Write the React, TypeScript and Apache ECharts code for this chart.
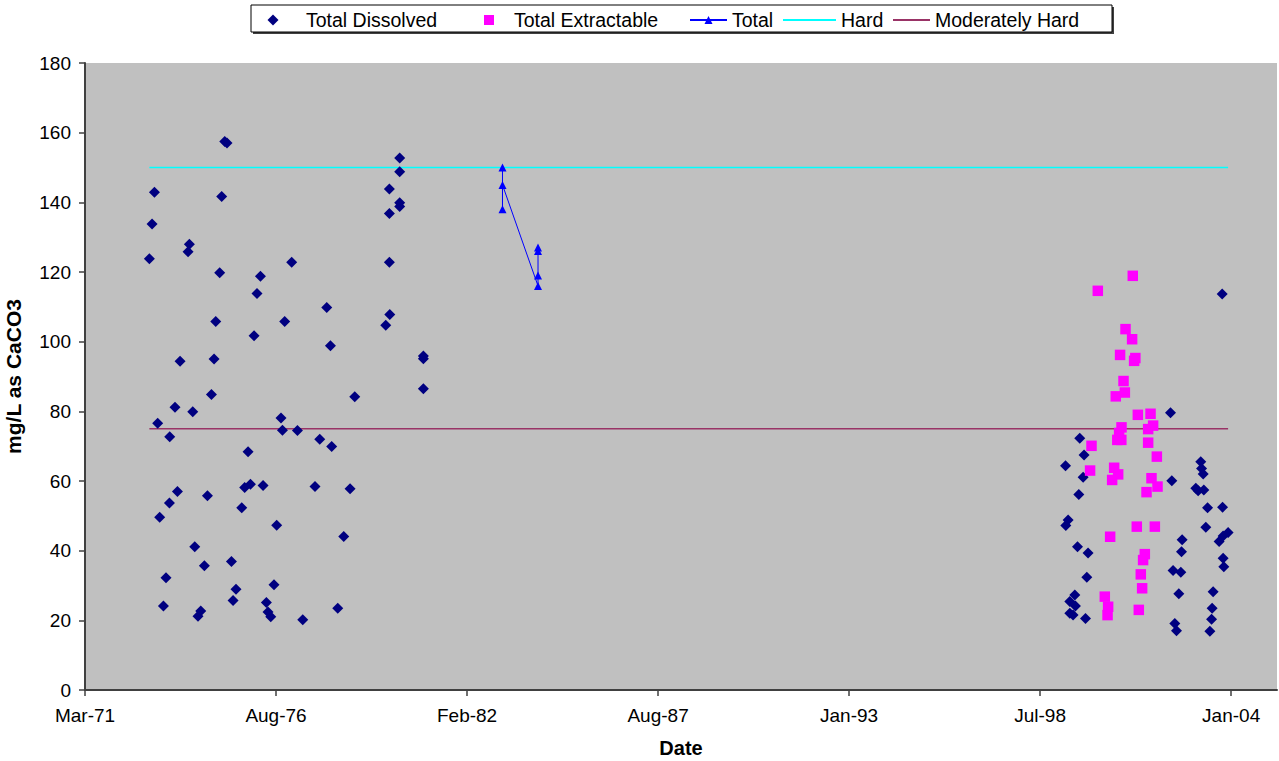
import React, { useEffect, useRef } from "react";
import * as echarts from "echarts";

// Dates are Excel date serials (days since 1899-12-30), values in mg/L as CaCO3
const dissolvedDates = [
  26674, 26702, 26727, 26761, 26782, 26821, 26848, 26884, 26887, 26942, 26968, 26995,
  27079, 27093, 27128, 27149, 27183, 27212, 27250, 27282, 27324, 27351, 27369, 27410,
  27431, 27463, 27487, 27533, 27550, 27581, 27641, 27672, 27707, 27732, 27770, 27801,
  27837, 27864, 27899, 27916, 27945, 27979, 28007, 28052, 28067, 28091, 28164, 28224,
  28280, 28408, 28458, 28531, 28570, 28583, 28646, 28709, 28775, 28824, 29149, 29187,
  29187, 29187, 29191, 29295, 29295, 29295, 29295, 29543, 29543, 29543,
  36266, 36269, 36293, 36311, 36311, 36345, 36363, 36370, 36391, 36405, 36415, 36450,
  36460, 36475, 36489, 36502, 37365, 37379, 37392, 37410, 37428, 37452, 37473, 37480,
  37487, 37630, 37654, 37682, 37690, 37707, 37714, 37735, 37753, 37777, 37795, 37801,
  37811, 37874, 37906, 37910, 37916, 37916, 37923, 37968,
];
const dissolvedValues = [
  123.8, 133.8, 142.9, 76.6, 49.6, 24.1, 32.2, 53.7, 72.7, 81.2, 57.0, 94.4,
  125.8, 128.0, 79.9, 41.1, 21.2, 22.7, 35.7, 55.8, 84.8, 95.0, 105.8, 119.8,
  141.7, 157.5, 157.0, 36.9, 25.7, 28.9, 52.3, 58.1, 68.4, 59.1, 101.7, 113.8,
  118.8, 58.7, 25.1, 22.4, 21.0, 30.2, 47.3, 78.1, 74.6, 105.8, 122.8, 74.5,
  20.2, 58.4, 72.0, 109.8, 98.8, 69.9, 23.5, 44.1, 57.8, 84.2, 104.7, 143.8,
  136.8, 122.8, 107.8, 152.7, 148.8, 139.9, 138.8, 95.9, 95.1, 86.5,
  64.4, 47.2, 48.8, 25.4, 22.0, 21.5, 27.3, 24.1, 41.1, 56.1, 72.3, 61.1,
  67.5, 20.5, 32.4, 39.3, 79.6, 60.1, 34.3, 19.1, 17.0, 27.6, 33.8, 39.7,
  43.1, 57.9, 57.2, 65.5, 63.6, 62.0, 57.4, 46.7, 52.3, 16.9, 20.3, 23.5,
  28.2, 42.6, 113.7, 52.5, 44.2, 37.8, 35.4, 45.2,
];

const extractableDates = [
  36523, 36538, 36604, 36677, 36706, 36712, 36733, 36754, 36775, 36792, 36808, 36817,
  36827, 36837, 36850, 36852, 36873, 36887, 36894, 36963, 36970, 36984, 36997, 37012,
  37023, 37033, 37054, 37068, 37078, 37096, 37114, 37131, 37131, 37156, 37166, 37183,
  37201, 37222, 37229,
];
const extractableValues = [
  63.0, 70.1, 114.6, 26.8, 21.5, 23.9, 44.0, 60.3, 63.8, 84.3, 71.8, 61.9,
  73.8, 96.2, 71.8, 75.4, 88.7, 85.4, 103.6, 100.7, 118.9, 94.5, 95.3, 46.9,
  79.0, 23.0, 33.2, 29.2, 37.3, 39.0, 56.8, 74.9, 71.0, 79.3, 60.8, 75.9,
  46.9, 67.0, 58.4,
];

const totalDates = [30371, 30371, 30371, 30743, 30743, 30743, 30743];
const totalValues = [150, 138, 145, 116, 119, 127, 126];

const guideDates = [26674, 37968];
const hardValues = [150, 150];
const moderatelyHardValues = [75, 75];

const yTicks = [0, 20, 40, 60, 80, 100, 120, 140, 160, 180];
const xMin = 26000; // Mar-71
const xMax = 38480;
const xInterval = 2000;

const MONTHS = ["Jan", "Feb", "Mar", "Apr", "May", "Jun", "Jul", "Aug", "Sep", "Oct", "Nov", "Dec"];
const EXCEL_EPOCH = Date.UTC(1899, 11, 30);

function formatSerial(v: number): string {
  if (Math.abs(v % xInterval) > 1e-6) return "";
  const d = new Date(EXCEL_EPOCH + v * 86400000);
  return MONTHS[d.getUTCMonth()] + "-" + String(d.getUTCFullYear() % 100).padStart(2, "0");
}

const zip = (xs: number[], ys: number[]) => xs.map((x, i) => [x, ys[i]]);

const FONT = "'Liberation Sans', Arial, sans-serif";

export default function App() {
  const ref = useRef<HTMLDivElement>(null);

  useEffect(() => {
    if (!ref.current) return;
    const chart = echarts.init(ref.current, null, { renderer: "svg" });
    const legendText = { fontSize: 19.5, color: "#000", fontFamily: FONT };
    const legendBase = { top: 10, padding: 0, textStyle: legendText, z: 10, symbolKeepAspect: true, selectedMode: false };
    chart.setOption({
      animation: false,
      backgroundColor: "#ffffff",
      textStyle: { fontFamily: FONT },
      grid: {
        left: 85,
        right: 2,
        top: 63,
        bottom: 71,
        show: true,
        backgroundColor: "#C0C0C0",
        borderWidth: 0,
        containLabel: false,
        outerBoundsMode: "none",
      },
      xAxis: {
        type: "value",
        min: xMin,
        max: xMax,
        interval: xInterval,
        name: "Date",
        nameLocation: "middle",
        nameGap: 48,
        nameTextStyle: { fontWeight: "bold", fontSize: 20, color: "#000", fontFamily: FONT },
        axisLine: { show: true, onZero: false, lineStyle: { color: "#404040", width: 2 } },
        axisTick: { show: true, inside: false, length: 6, lineStyle: { color: "#404040", width: 1.5 } },
        axisLabel: { margin: 16, fontSize: 19, color: "#000", formatter: formatSerial, showMaxLabel: false, fontFamily: FONT },
        splitLine: { show: false },
      },
      yAxis: {
        type: "value",
        min: yTicks[0],
        max: yTicks[yTicks.length - 1],
        interval: 20,
        name: "mg/L as CaCO3",
        nameLocation: "middle",
        nameGap: 61,
        nameRotate: 90,
        nameTextStyle: { fontWeight: "bold", fontSize: 21, color: "#000", fontFamily: FONT },
        axisLine: { show: true, onZero: false, lineStyle: { color: "#404040", width: 2 } },
        axisTick: { show: true, inside: false, length: 6, lineStyle: { color: "#404040", width: 1.5 } },
        axisLabel: { margin: 14, fontSize: 19, color: "#000", fontFamily: FONT },
        splitLine: { show: false },
      },
      legend: [
        { ...legendBase, left: 267.5, itemWidth: 56, itemHeight: 11, data: [{ name: "Total Dissolved", icon: "path://M5 0L10 5L5 10L0 5Z" }] },
        { ...legendBase, left: 484, itemWidth: 40, itemHeight: 10, data: [{ name: "Total Extractable", icon: "path://M0 0H10V10H0Z" }] },
        { ...legendBase, left: 689, itemWidth: 37, itemHeight: 10, data: ["Total"], lineStyle: { width: 2 } },
        { ...legendBase, left: 783, itemWidth: 53, itemHeight: 2, data: [{ name: "Hard", icon: "rect" }] },
        { ...legendBase, left: 893, itemWidth: 37, itemHeight: 2, data: [{ name: "Moderately Hard", icon: "rect" }] },
      ],
      graphic: [
        { type: "rect", z: 0, shape: { x: 253, y: 7, width: 861, height: 27 }, style: { fill: "#404040" } },
        { type: "rect", z: 1, shape: { x: 251, y: 5, width: 861, height: 27 }, style: { fill: "#ffffff", stroke: "#000000", lineWidth: 1 } },
      ],
      series: [
        {
          name: "Hard",
          type: "line",
          data: zip(guideDates, hardValues),
          symbol: "none",
          z: 1,
          itemStyle: { color: "#00FFFF" },
          lineStyle: { color: "#00FFFF", width: 1.5 },
        },
        {
          name: "Moderately Hard",
          type: "line",
          data: zip(guideDates, moderatelyHardValues),
          symbol: "none",
          z: 1,
          itemStyle: { color: "#993366" },
          lineStyle: { color: "#993366", width: 1.5 },
        },
        {
          name: "Total Dissolved",
          type: "scatter",
          data: zip(dissolvedDates, dissolvedValues),
          symbol: "diamond",
          symbolSize: 11,
          z: 3,
          itemStyle: { color: "#000080", opacity: 1 },
        },
        {
          name: "Total Extractable",
          type: "scatter",
          data: zip(extractableDates, extractableValues),
          symbol: "rect",
          symbolSize: 10.5,
          z: 4,
          itemStyle: { color: "#FF00FF", opacity: 1 },
        },
        {
          name: "Total",
          type: "line",
          data: zip(totalDates, totalValues),
          symbol: "triangle",
          symbolSize: 8,
          showSymbol: true,
          z: 5,
          itemStyle: { color: "#0000FF" },
          lineStyle: { color: "#0000FF", width: 1 },
        },
      ],
    });
    return () => chart.dispose();
  }, []);

  return (
    <div
      ref={ref}
      style={{ position: "absolute", left: 0, top: 0, width: 1279, height: 761 }}
    />
  );
}
